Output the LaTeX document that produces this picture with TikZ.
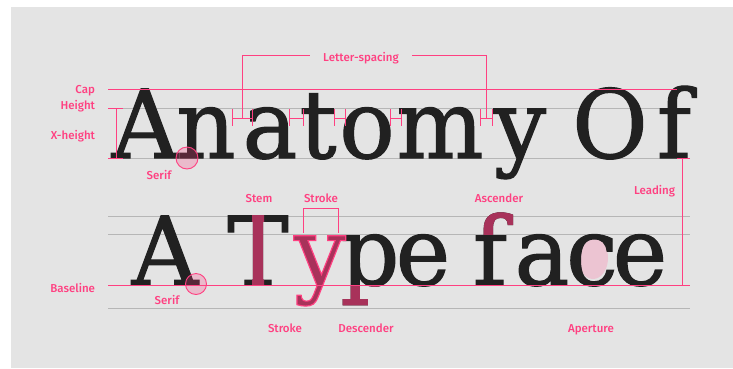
\documentclass[tikz,border=0pt]{standalone}
\usepackage{fontspec}
\usetikzlibrary{calc}
\newfontfamily\typefont{DejaVu Serif}[FakeStretch=0.97,FakeBold=1.2]
\newfontfamily\notefont{Fira Sans}[UprightFont={* Medium}]
\definecolor{paper}{RGB}{228,228,228}
\definecolor{ink}{RGB}{33,33,33}
\definecolor{accent}{RGB}{255,64,129}
\definecolor{hilite}{RGB}{168,50,90}
\definecolor{guideline}{RGB}{182,182,182}
\definecolor{blush}{RGB}{236,196,210}
% stroke colour only, for the outlined glyph
\newcommand\pinkedge{\special{pdf:literal direct 1 0.251 0.506 RG}}
\tikzset{
  glyph/.style={inner sep=0pt,outer sep=0pt,anchor=base,text=ink,font=\typefont\fontsize{95}{95}\selectfont},
  note/.style={inner sep=0pt,outer sep=0pt,anchor=base,text=accent,font=\notefont\fontsize{11.5}{13}\selectfont},
  guide/.style={draw=guideline,line width=1pt},
  pinkrule/.style={draw=accent,line width=0.8pt},
  ring/.style={draw=accent,line width=0.9pt,fill=accent,fill opacity=0.25}
}
\begin{document}
\begin{tikzpicture}[x=1pt,y=-1pt]
\path[use as bounding box] (0,0) rectangle (733,368);
\path[fill=white,draw=none] (0,0) rectangle (733,368);
\path[fill=paper,draw=none] (11,7) rectangle (733,368);
% guide lines
\draw[guide] (108,108) -- (690,108);
\draw[guide] (108,158) -- (690,158);
\draw[guide] (108,216) -- (690,216);
\draw[guide] (108,234) -- (690,234);
\draw[guide] (108,308) -- (690,308);
% aperture, behind the c
\path[fill=blush,draw=none] (593,258) ellipse [x radius=15,y radius=21];
% first line
\foreach \ch/\x/\nm in {A/145/oA, n/206/on, a/270/oa, t/318/ot, o/367/oo, m/440/om, y/520/oy, O/610/oO, f/674/of}
  \node[glyph] (\nm) at (\x,158) {\ch};
% second line
\foreach \ch/\x/\nm in {A/165/tA, T/258/tT, p/370/tp, e/423/te, f/490/tf, a/542/ta, c/592/tc, e/640/tee}
  \node[glyph] (\nm) at (\x,285) {\ch};
\node[glyph,text=hilite] (ty) at (320,285) {\pinkedge y};
% stem, descender, ascender
\begin{scope}
\clip ($(tT.base)+(-6,0)$) rectangle ($(tT.base)+(6,-72)$);
\node[glyph,text=hilite] at (tT.base) {T};
\end{scope}
\begin{scope}
\clip ($(tp.base)+(-40,0)$) rectangle ($(tp.base)+(40,30)$);
\node[glyph,text=hilite] at (tp.base) {p};
\end{scope}
\begin{scope}
\clip ($(tf.base)+(-40,-51)$) rectangle ($(tf.base)+(40,-90)$);
\node[glyph,text=hilite] at (tf.base) {f};
\end{scope}
% pink rules
\draw[pinkrule,line width=1pt] (108,89) -- (677,89);
\draw[pinkrule,line width=1pt] (108,285) -- (690,285);
\draw[pinkrule] (116,108) -- (116,158);
\draw[pinkrule] (108,108) -- (123,108);
\draw[pinkrule] (108,158) -- (123,158);
\draw[pinkrule] (677,158) -- (690,158);
\draw[pinkrule,line width=0.6pt] (682,158) -- (682,285);
\draw[pinkrule] (242,118) |- (310,55);
\draw[pinkrule] (412,55) -| (486,118);
\draw[pinkrule] (303,233) |- (338,208) -- (338,233);
\foreach \a/\b in {232/252, 289/303, 334/345, 390/401, 480/492} {
  \draw[pinkrule] (\a,118) -- (\b,118);
  \draw[pinkrule] (\a,109) -- (\a,126);
  \draw[pinkrule] (\b,109) -- (\b,126);
}
\path[ring] (187,158) circle [radius=11];
\path[ring] (196,284) circle [radius=10.5];
% labels
\node[note,anchor=base east] (cap) at (95,93) {Cap};
\node[note,anchor=base east] (capheight) at (95,109) {Height};
\node[note,anchor=base east] (xheight) at (95,139) {X-height};
\node[note] (serifa) at (159,179) {Serif};
\node[note] (lsp) at (361,61) {Letter-spacing};
\node[note] (stem) at (259,202) {Stem};
\node[note] (strokea) at (321,202) {Stroke};
\node[note] (ascender) at (499,202) {Ascender};
\node[note,anchor=base east] (leading) at (675,194) {Leading};
\node[note,anchor=base east] (baseline) at (95,292) {Baseline};
\node[note] (serifb) at (167,304) {Serif};
\node[note] (strokeb) at (285,332) {Stroke};
\node[note] (descender) at (366,332) {Descender};
\node[note] (aperture) at (591,332) {Aperture};
\end{tikzpicture}
\end{document}
